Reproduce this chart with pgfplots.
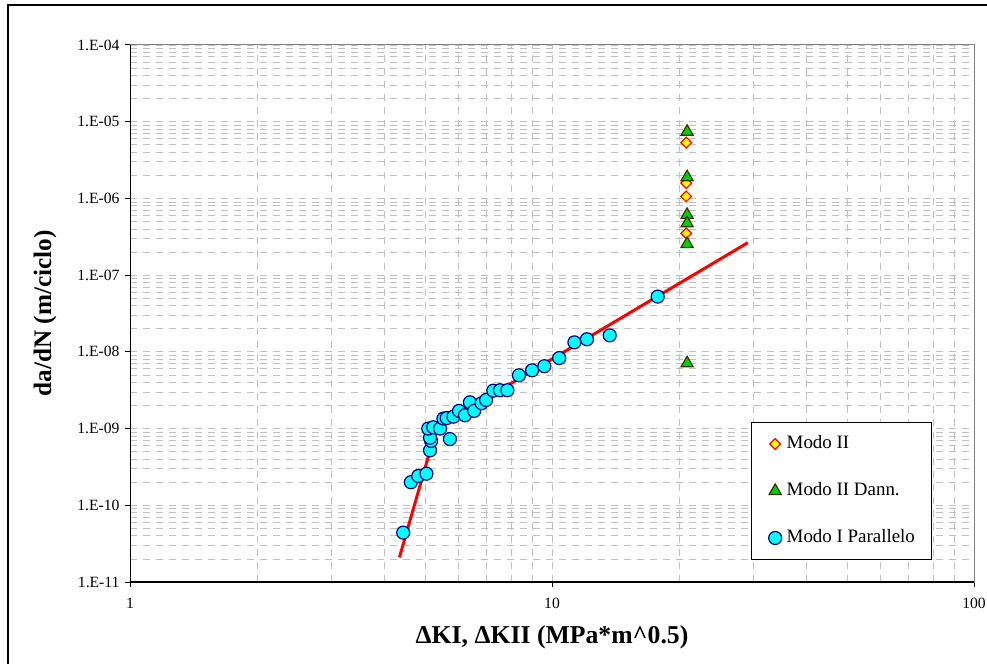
\documentclass[border=0pt]{standalone}
\usepackage{pgfplots}
\pgfplotsset{compat=1.18}
\usepackage{fontspec}
\setmainfont{Liberation Serif}

\definecolor{gridgray}{RGB}{192,192,192}
\definecolor{framegray}{RGB}{128,128,128}
\definecolor{mcyan}{RGB}{0,255,255}
\definecolor{mnavy}{RGB}{0,0,128}
\definecolor{mgreen}{RGB}{0,210,0}
\definecolor{molive}{RGB}{51,51,0}
\definecolor{myellow}{RGB}{255,255,0}

\begin{document}
\begin{tikzpicture}[x=1bp,y=1bp]
\useasboundingbox (0,0) rectangle (987,664);
% outer chart frame (only left and top edges fall inside the picture)
\draw[line width=2bp] (8,-20) -- (8,659) -- (1010,659);
\begin{axis}[
    at={(130bp,82bp)}, anchor=south west,
    scale only axis, width=844bp, height=537bp,
    xmode=log, ymode=log,
    xmin=1, xmax=100, ymin=1e-11, ymax=1e-4,
    xtick={1,10,100}, xticklabels={1,10,100},
    ytick={1e-11,1e-10,1e-9,1e-8,1e-7,1e-6,1e-5,1e-4},
    yticklabels={1.E-11,1.E-10,1.E-09,1.E-08,1.E-07,1.E-06,1.E-05,1.E-04},
    xtick pos=bottom, ytick pos=left,
    tick align=outside, major tick length=5bp, minor tick length=0pt,
    major tick style={black, line width=1bp},
    tick label style={font=\fontsize{15.7}{15.7}\selectfont},
    xticklabel style={yshift=-8bp},
    yticklabel style={xshift=-2bp},
    xmajorgrids, ymajorgrids, xminorgrids, yminorgrids,
    grid style={gridgray, line width=0.8bp, dash pattern=on 7bp off 6bp},
    major grid style={gridgray, line width=0.8bp, dash pattern=on 7bp off 6bp},
    minor grid style={gridgray, line width=0.8bp, dash pattern=on 7bp off 6bp},
    axis line style={framegray, line width=1bp},
    xlabel={\textbf{ΔKI, ΔKII (MPa*m\^{}0.5)}},
    ylabel={\textbf{da/dN (m/ciclo)}},
    every axis x label/.style={at={(axis description cs:0.5,-0.1024)}, anchor=center, font=\fontsize{25.8}{26}\selectfont},
    every axis y label/.style={at={(axis description cs:-0.1007,0.5)}, anchor=center, rotate=90, font=\fontsize{25.3}{26}\selectfont},
    legend style={at={(axis description cs:0.736,0.041)}, anchor=south west,
        draw=black, line width=1bp, fill=white,
        inner xsep=17bp, inner ysep=13bp, row sep=30bp,
        font=\fontsize{19}{19}\selectfont,
        nodes={inner sep=0pt, text height=13bp, text depth=4bp},
        /tikz/every odd column/.append style={column sep=5bp}},
    legend cell align=left,
    legend image code/.code={\draw[#1] plot coordinates {(0bp,0bp)};},
]

\addplot[only marks, mark=square*, mark size=3.8bp,
    mark options={rotate=45, fill=myellow, draw=red, line width=1.2bp}]
    coordinates {(20.8,5.35e-6)(20.8,1.58e-6)(20.8,1.06e-6)(20.8,3.5e-7)};
\addlegendentry{Modo II}

\addplot[only marks, mark=triangle*, mark size=7bp,
    mark options={fill=mgreen, draw=molive, line width=1.2bp}]
    coordinates {(20.9,7.4e-6)(20.9,1.89e-6)(20.9,6.1e-7)(20.9,4.75e-7)(20.9,2.55e-7)(20.9,7.1e-9)};
\addlegendentry{Modo II Dann.}

\addplot[only marks, mark=*, mark size=6.5bp,
    mark options={fill=mcyan, draw=mnavy, line width=1.2bp}]
    coordinates {
    (4.44,4.4e-11)(4.63,2.0e-10)(4.82,2.41e-10)(5.04,2.58e-10)(5.14,5.2e-10)
    (5.17,6.9e-10)(5.14,7.6e-10)(5.09,1.0e-9)(5.23,1.04e-9)(5.43,1.0e-9)
    (5.73,7.3e-10)(5.53,1.35e-9)(5.63,1.37e-9)(5.84,1.43e-9)(6.02,1.70e-9)
    (6.22,1.49e-9)(6.39,2.2e-9)(6.54,1.7e-9)(6.81,2.14e-9)(6.98,2.36e-9)
    (7.26,3.12e-9)(7.53,3.16e-9)(7.84,3.16e-9)(8.35,4.95e-9)(8.97,5.75e-9)
    (9.59,6.5e-9)(10.4,8.3e-9)(11.3,1.33e-8)(12.1,1.46e-8)(13.7,1.64e-8)
    (17.8,5.25e-8)
    };
\addlegendentry{Modo I Parallelo}

% fitted curve
\addplot[red, line width=3bp, forget plot]
    coordinates {(4.35,2.1e-11)(5.33,1.03e-9)(29.1,2.65e-7)};

\draw[black, line width=1.6bp] (rel axis cs:0,1) -- (rel axis cs:0,0) -- (rel axis cs:1,0);
\end{axis}
\end{tikzpicture}
\end{document}
